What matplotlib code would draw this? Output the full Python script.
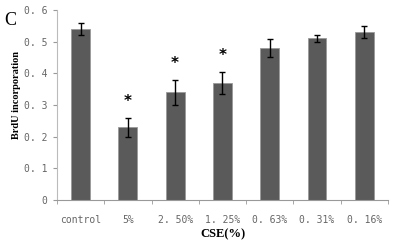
import numpy as np
import matplotlib.pyplot as plt

labels = ["control", "5%", "2.50%", "1.25%", "0.63%", "0.31%", "0.16%"]
values = [0.54, 0.23, 0.34, 0.37, 0.48, 0.51, 0.53]
errors = [0.018, 0.03, 0.04, 0.035, 0.028, 0.012, 0.02]
signif = [False, True, True, True, False, False, False]

fig = plt.figure(figsize=(3.93, 2.42), dpi=100)
ax = fig.add_axes([0.145, 0.174, 0.842, 0.785])

x = np.arange(len(labels))
ax.bar(x, values, width=0.4, color="#5a5a5a", edgecolor="#9a9a9a", linewidth=0.6,
       yerr=errors, error_kw=dict(ecolor="black", elinewidth=1.0, capsize=2.5, capthick=1.0))

for xi, v, e, s in zip(x, values, errors, signif):
    if s:
        ax.text(xi, v + e + 0.05, "*", ha="center", va="center", fontsize=11,
                fontweight="bold", color="black")

ax.set_xlim(-0.5, len(labels) - 0.5)
ax.set_ylim(0, 0.6)
ax.set_yticks(np.arange(0, 0.61, 0.1))
ax.set_yticklabels(["0", "0. 1", "0. 2", "0. 3", "0. 4", "0. 5", "0. 6"])
ax.set_xticks(x)
ax.set_xticklabels(["control", "5%", "2. 50%", "1. 25%", "0. 63%", "0. 31%", "0. 16%"])
ax.set_xticks(np.arange(-0.5, len(labels)), minor=True)
ax.tick_params(axis="x", which="major", length=0, pad=11)
ax.tick_params(axis="x", which="minor", length=3, direction="out", color="#999999")
ax.tick_params(axis="y", length=3, direction="out", color="#999999", pad=4)
for lab in ax.get_xticklabels() + ax.get_yticklabels():
    lab.set_family("DejaVu Sans Mono")
    lab.set_fontsize(7)
    lab.set_color("#666666")

ax.spines["top"].set_visible(False)
ax.spines["right"].set_visible(False)
ax.spines["left"].set_color("#bbbbbb")
ax.spines["bottom"].set_color("#999999")

ax.set_ylabel("BrdU incorporation", family="Liberation Serif", fontweight="bold",
              fontsize=7.5)
ax.yaxis.set_label_coords(-0.11, 0.553)
ax.set_xlabel("CSE(%)", family="Liberation Serif", fontweight="bold", fontsize=9, labelpad=2)
fig.text(0.01, 0.95, "C", family="Liberation Serif", fontsize=13, va="top")

fig.savefig("out.png", dpi=100)
